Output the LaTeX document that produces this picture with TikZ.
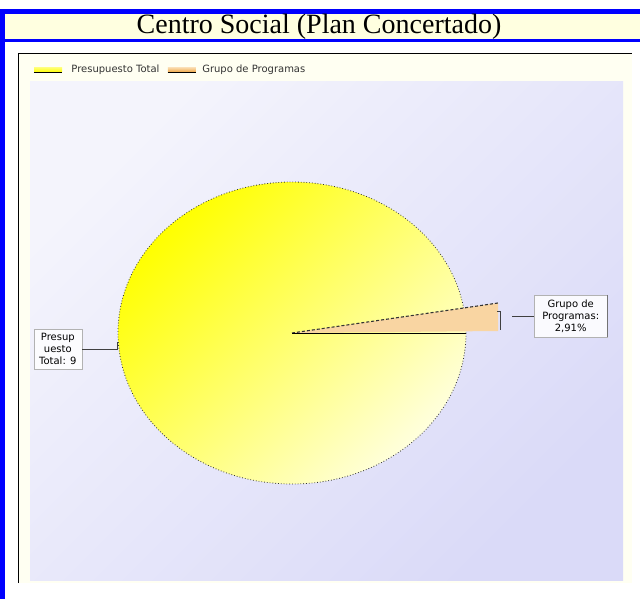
\documentclass[tikz,border=0pt]{standalone}
\usepackage{fontspec}
\setmainfont{Liberation Serif}
\newfontfamily\chartfont{DejaVu Sans}
\usetikzlibrary{positioning, calc}
\usepackage{xcolor}
\definecolor{frameBlue}{HTML}{0000FF}
\definecolor{titleBand}{HTML}{FFFFE0}
\definecolor{chartBg}{HTML}{FFFFF2}
\definecolor{lavLight}{HTML}{F4F4FC}
\definecolor{lavDark}{HTML}{DADAF8}
\definecolor{pieYellow}{HTML}{FFFF00}
\definecolor{piePale}{HTML}{FFFFDC}
\definecolor{wedgeOrange}{HTML}{F9D5A2}
\definecolor{legOrange}{HTML}{F0A848}
\tikzstyle{lbox} = [%
  draw=gray!60,
  fill=white,
  fill opacity=0.85,
  text opacity=1.0,
  text=black,
  align=center,
  inner sep=2pt,
  font=\chartfont\fontsize{10}{12}\selectfont
]

\begin{document}
\begin{tikzpicture}[%
  x=1pt, y=-1pt,
  swatch/.style={%
    minimum width=28pt,
    minimum height=4pt,
    inner sep=0pt
  },
  legtext/.style={%
    font=\chartfont\fontsize{10}{12}\selectfont,
    text=black!80,
    inner sep=0pt
  },
  leader/.style={draw=black!75,line width=0.6pt}
]
  \useasboundingbox (0,0) rectangle (640,599);

  % Frame
  \fill[white] (0,0) rectangle (640,599);
  \fill[frameBlue] (0,9) rectangle (640,14);
  \fill[frameBlue] (0,9) rectangle (5,599);
  \fill[titleBand] (5,14) rectangle (640,39);
  \fill[frameBlue] (5,39) rectangle (640,42);
  \fill[chartBg] (18,54) rectangle (632,583);
  \draw[line width=1pt] (18,583) -- (18,54) -- (632,54);
  \shade[top color=lavLight,bottom color=lavDark,shading angle=45] (30,82) rectangle (623,580);

  % Title
  \node[font=\fontsize{28}{30}\selectfont,inner sep=0pt] (title) at (319,27) {Centro Social (Plan Concertado)};

  % Legend
  \node[swatch,top color=pieYellow!60,bottom color=pieYellow] (swP) at (48,70) {};
  \draw[line width=0.8pt] (swP.south west) -- (swP.south east);
  \node[legtext,right=9pt of swP] (legP) {Presupuesto Total};
  \node[swatch,top color=wedgeOrange,bottom color=legOrange,right=8pt of legP] (swG) {};
  \draw[line width=0.8pt] (swG.south west) -- (swG.south east);
  \node[legtext,right=6pt of swG] (legG) {Grupo de Programas};

  % Pie
  \coordinate (c) at (292,333);
  \shade[top color=pieYellow,bottom color=piePale,shading angle=45] (c) ellipse [x radius=174,y radius=151];
  \draw[dotted,line width=0.8pt,black!80] (c) ellipse [x radius=174,y radius=151];
  \coordinate (w1) at (498,303);
  \coordinate (w2) at (498,331);
  \coordinate (pieE) at (466,333);
  \fill[wedgeOrange] (c) -- (w1) -- (w2) -- cycle;
  \draw[dash pattern=on 3pt off 2pt,line width=1.1pt,black!80] (c) -- (w1);
  \draw[line width=0.8pt] (c) -- (pieE);

  % Labels
  \coordinate (tickP) at (117,349);
  \coordinate (tickG) at (500,316);
  \node[lbox,minimum width=48pt,minimum height=40pt,left=35pt of tickP] (lblP) {Presup\\uesto\\Total: 9};
  \node[lbox,minimum width=73pt,minimum height=42pt,right=34pt of tickG] (lblG) {Grupo de\\Programas:\\2,91\%};
  \draw[gray!90!black,line width=0.8pt] (lblG.north east) -- (lblG.south east);

  % Leaders
  \draw[leader] (lblP.east) -- (tickP) -- ++(0,-7);
  \draw[leader] ($(tickG)+(-3,-5)$) -- ($(tickG)+(0,-5)$) -- ($(tickG)+(0,14)$);
  \draw[leader] (lblG.west) -- ($(tickG)+(12,0)$);

\end{tikzpicture}
\end{document}
